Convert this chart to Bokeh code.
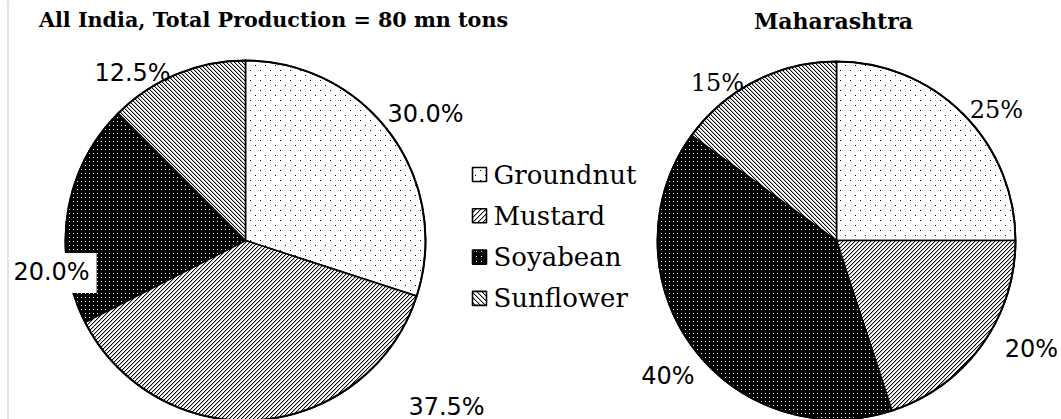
from bokeh.plotting import figure
from bokeh.models import Range1d, Span, ImageURLTexture
from bokeh.core.properties import value
from bokeh.embed import file_html
from bokeh.resources import INLINE
import math, zlib, struct, base64

# ---------------- data ----------------
categories = ["Groundnut", "Mustard", "Soyabean", "Sunflower"]
india_share = [30.0, 37.5, 20.0, 12.5]
maha_share = [25, 20, 40, 15]
india_labels = ["30.0%", "37.5%", "20.0%", "12.5%"]
maha_labels = ["25%", "20%", "40%", "15%"]
india_title = "All India, Total Production = 80 mn tons"
maha_title = "Maharashtra"


# ---------------- pattern tiles (tiny PNGs) ----------------
def png_uri(w, h, px):
    """px: dict {(x, y): (r, g, b, a)}; everything else transparent."""
    rows = []
    for y in range(h):
        row = bytearray([0])
        for x in range(w):
            row += bytes(px.get((x, y), (0, 0, 0, 0)))
        rows.append(bytes(row))
    raw = b"".join(rows)

    def chunk(t, d):
        return struct.pack(">I", len(d)) + t + d + struct.pack(">I", zlib.crc32(t + d) & 0xffffffff)
    png = (b"\x89PNG\r\n\x1a\n"
           + chunk(b"IHDR", struct.pack(">IIBBBBB", w, h, 8, 6, 0, 0, 0))
           + chunk(b"IDAT", zlib.compress(raw))
           + chunk(b"IEND", b""))
    return "data:image/png;base64," + base64.b64encode(png).decode()


BLK = (0, 0, 0, 255)
GRY = (0, 0, 0, 70)
WHT = (255, 255, 255, 255)


def tile_dots(n):
    h = n // 2
    return png_uri(n, n, {(0, 0): BLK, (h, h): BLK})


def tile_rdiag(n):
    px = {}
    for i in range(n):
        px[(i, n - 1 - i)] = BLK
        px[((i + 1) % n, n - 1 - i)] = GRY
    return png_uri(n, n, px)


def tile_ldiag(n):
    px = {}
    for i in range(n):
        px[(i, i)] = BLK
        px[((i + 1) % n, i)] = GRY
    return png_uri(n, n, px)


def tile_wdots(n):
    return png_uri(n, n, {(1, 1): WHT})


fill_colors = ["white", "white", "black", "white"]
tile_makers = [tile_dots, tile_rdiag, tile_wdots, tile_ldiag]
tile_sizes = [10, 4, 4, 4]
legend_tile_sizes = [10, 5, 5, 5]

W, H = 1061, 419
p = figure(width=W, height=H, output_backend="svg", toolbar_location=None,
           x_range=Range1d(0, W), y_range=Range1d(0, H), min_border=0)
p.axis.visible = False
p.grid.visible = False
p.outline_line_color = None
p.background_fill_color = "white"
p.border_fill_color = "white"

# thin gray border line at the left
p.add_layout(Span(location=7.5, dimension="height", line_color="#c8c8c8", line_width=1))


def hatch_kw(i, n):
    key = "tex%d_%d" % (i, n)
    return dict(hatch_pattern=value(key),
                hatch_extra={key: ImageURLTexture(url=tile_makers[i](n))})


def draw_pie(cx, cy, r, shares, labels, label_offsets, label_fonts, label_bg):
    total = sum(shares)
    cum = 0.0
    for i, s in enumerate(shares):
        a0 = math.pi / 2 - 2 * math.pi * cum / total
        cum += s
        a1 = math.pi / 2 - 2 * math.pi * cum / total
        p.wedge(x=[cx], y=[cy], radius=r, start_angle=a0, end_angle=a1,
                direction="clock", fill_color=fill_colors[i],
                line_color="black", line_width=1.6, **hatch_kw(i, tile_sizes[i]))
    p.circle(x=[cx], y=[cy], radius=r, fill_color=None, line_color="black", line_width=2)
    for i, lab in enumerate(labels):
        dx, dy = label_offsets[i]
        kw = {}
        if label_bg[i]:
            kw = dict(background_fill_color="white", padding=[5, 7, 5, 7])
        p.text(x=[cx + dx], y=[cy + dy], text=[lab], text_align="center",
               text_baseline="middle", text_font=value(label_fonts[i]),
               text_font_size="24px", text_color="black", **kw)


# left pie (All India)
draw_pie(245, 179, 180, india_share, india_labels,
         [(180, 126.5), (201, -166), (-193, -32.5), (-113, 168)],
         ["DejaVu Sans"] * 4, [False, False, True, False])
# right pie (Maharashtra)
draw_pie(836, 179, 179, maha_share, maha_labels,
         [(160, 131), (195, -108.5), (-168.5, -135), (-119, 157.5)],
         ["DejaVu Serif", "DejaVu Sans", "DejaVu Sans", "DejaVu Serif"],
         [False, False, False, False])

# titles
p.text(x=[273], y=[399.5], text=[india_title], text_align="center", text_baseline="middle",
       text_font=value("DejaVu Serif"), text_font_style="bold", text_font_size="20.7px")
p.text(x=[833], y=[399], text=[maha_title], text_align="center", text_baseline="middle",
       text_font=value("DejaVu Serif"), text_font_style="bold", text_font_size="22px")

# legend
leg_x, leg_y0, leg_dy = 479, 245, 41.3
for i, c in enumerate(categories):
    y = leg_y0 - i * leg_dy
    p.rect(x=[leg_x], y=[y], width=14, height=14, fill_color=fill_colors[i],
           line_color="black", line_width=1.6, **hatch_kw(i, legend_tile_sizes[i]))
    p.text(x=[leg_x + 14], y=[y], text=[c], text_align="left", text_baseline="middle",
           text_font=value("DejaVu Serif"), text_font_size="26px", text_color="black")

open("out.html", "w").write(file_html(p, INLINE))
